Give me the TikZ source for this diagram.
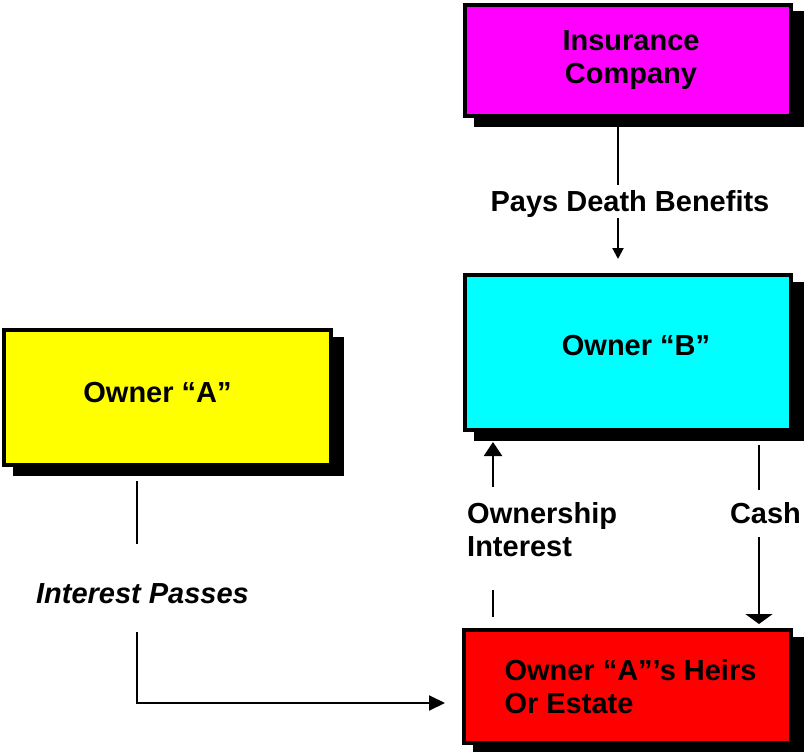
\documentclass[tikz,border=0pt]{standalone}
\usepackage{fontspec}
\setmainfont{Liberation Sans}
\usetikzlibrary{arrows.meta}
\definecolor{insmagenta}{RGB}{255,0,255}
\definecolor{ownbcyan}{RGB}{0,255,255}
\definecolor{ownayellow}{RGB}{255,255,0}
\definecolor{heirsred}{RGB}{255,0,0}

\begin{document}
\begin{tikzpicture}[x=1pt,y=-1pt,
    box/.style={draw=black,line width=4pt,minimum width=326pt,
      preaction={fill=black,draw=black,transform canvas={xshift=10.5pt,yshift=-8.5pt}},
      font=\fontsize{29}{33}\selectfont\bfseries},
    lbl/.style={inner sep=0pt,font=\fontsize{29}{33}\selectfont\bfseries},
    wire/.style={line width=2pt},
    flow/.style={wire,-{Triangle[width=#1]}}]
  \useasboundingbox (0,0) rectangle (804,752);

  % boxes
  \node[box,fill=insmagenta,minimum height=111pt,align=center] (ins) at (628,60.5) {\hspace*{6pt}Insurance\\\hspace*{6pt}Company};
  \node[box,fill=ownbcyan,minimum height=155pt,text depth=14pt] (ownB) at (628,352.5) {\hspace*{16pt}Owner “B”};
  \node[box,fill=ownayellow,minimum width=327pt,minimum height=135pt,text depth=11pt] (ownA) at (167.5,397.5) {\hspace*{-20pt}Owner “A”};
  \node[box,fill=heirsred,minimum width=327pt,minimum height=113pt,align=left] (heirs) at (627.5,686.5) {\hspace*{6pt}Owner “A”’s Heirs\\\hspace*{6pt}Or Estate};

  % labels
  \node[lbl,anchor=base] (pays) at (630,211) {Pays Death Benefits};
  \node[lbl,anchor=west,align=left] (ownint) at (467,530) {Ownership\\Interest};
  \node[lbl,anchor=base] (cash) at (765.5,523) {Cash};
  \node[lbl,anchor=base,font=\fontsize{29}{33}\selectfont\bfseries\itshape] (passes) at (142.5,603) {Interest Passes};

  % connectors
  \coordinate (pdx) at ([xshift=-10pt]ins.south);
  \draw[wire,shorten >=5pt] (pdx) -- (pdx |- pays.north);
  \draw[flow={11pt,length=11pt},shorten <=1pt,shorten >=14pt] (pdx |- pays.south) -- (pdx |- ownB.north);

  \coordinate (oix) at ([xshift=-134.5pt]heirs.north);
  \draw[wire,shorten <=11pt,shorten >=33pt] (oix) -- (oix |- ownint.south);
  \draw[flow={18pt,length=14pt},shorten <=16pt,shorten >=10pt] (oix |- ownint.north) -- (oix |- ownB.south);

  \coordinate (cx) at ([xshift=131pt]ownB.south);
  \draw[wire,shorten <=13pt,shorten >=12pt] (cx) -- (cx |- cash.north);
  \draw[flow={27pt,length=10pt},shorten <=14pt,shorten >=4pt] (cx |- cash.south) -- (cx |- heirs.north);

  \coordinate (px) at ([xshift=-30.5pt]ownA.south);
  \draw[wire,shorten <=14pt,shorten >=39pt] (px) -- (px |- passes.north);
  \draw[flow={15pt,length=16pt},shorten <=29pt,shorten >=17pt] (px |- passes.south) |- ([yshift=-16.5pt]heirs.west);
\end{tikzpicture}
\end{document}
